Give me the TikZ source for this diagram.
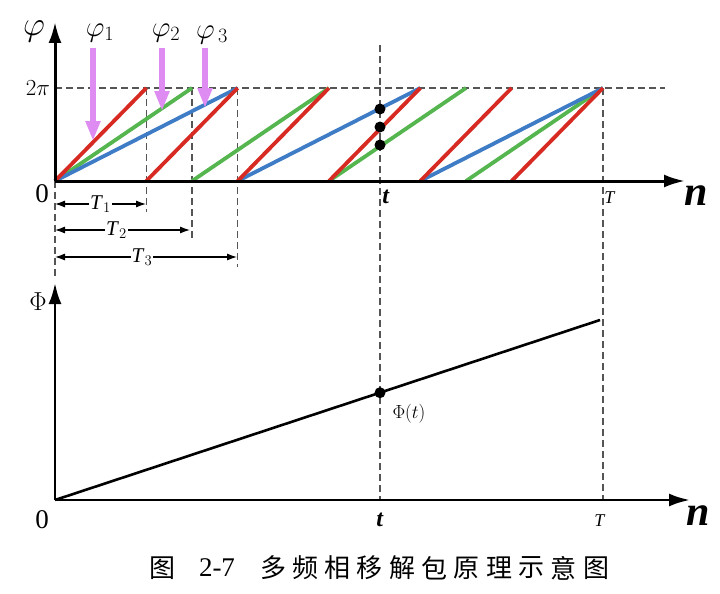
\RequirePackage{fix-cm}
\documentclass[tikz,border=0pt]{standalone}
\usepackage{fontspec}
\setmainfont{Liberation Serif}
\newfontfamily\cjk{Noto Sans CJK SC}
\usetikzlibrary{arrows.meta}
\definecolor{WrapRed}{HTML}{D62A22}
\definecolor{WrapGreen}{HTML}{55B54E}
\definecolor{WrapBlue}{HTML}{3F7CC6}
\definecolor{Probe}{HTML}{DE8CF2}
\definecolor{GuideGray}{HTML}{555555}
\newcommand{\fs}[1]{\fontsize{#1}{#1}\selectfont}

\begin{document}
\begin{tikzpicture}[x=1pt,y=-1pt,>={Latex[length=10pt,width=7pt]},
    axis/.style={line width=3pt,-{Latex[length=21pt,width=13pt]}},
    guide/.style={draw=GuideGray,line width=1.1pt,dash pattern=on 7pt off 4pt},
    ramp/.style={line width=3.8pt},
    probe/.style={draw=Probe,line width=6pt,-{Triangle[length=20pt,width=14pt]}},
    span/.style={line width=1.1pt,<->},
    dot/.style={circle,fill=black,inner sep=0pt,minimum size=11pt},
    lab/.style={inner sep=1pt}]
  \useasboundingbox (0,0) rectangle (720,594);

  % upper plot: wrapped phases
  \coordinate (O) at (55,181);
  \draw[guide] (55,88) -- (665,88);
  \draw[guide] (55,181) -- (55,278);
  \draw[guide] (146.3,88) -- (146.3,212);
  \draw[guide] (192,88) -- (192,238);
  \draw[guide] (237.7,88) -- (237.7,267);
  \draw[guide] (380,45) -- (380,500);
  \draw[guide] (603,88) -- (603,500);

  \foreach \k in {0,...,3}
    \draw[ramp,WrapGreen] ({55+\k*137},181) -- ({55+(\k+1)*137},88);
  \foreach \k in {0,...,2}
    \draw[ramp,WrapBlue] ({55+\k*182.67},181) -- ({55+(\k+1)*182.67},88);
  \foreach \k in {0,...,5}
    \draw[ramp,WrapRed] ({55+\k*91.33},181) -- ({55+(\k+1)*91.33},88);

  \draw[axis] (O) -- (55,22);
  \draw[axis] (O) -- (685,181);

  \node[dot] (d1) at (380,109) {};
  \node[dot] (d2) at (380,127) {};
  \node[dot] (d3) at (380,145) {};

  \draw[probe] (93,48) -- (93,141);
  \draw[probe] (162,48) -- (162,111);
  \draw[probe] (205,48) -- (205,108);

  \node[lab,font=\fs{34}] at (34,31) {$\varphi$};
  \node[lab,font=\fs{29}] at (100,33) {$\varphi_1$};
  \node[lab,font=\fs{29}] at (166,33) {$\varphi_2$};
  \node[lab,font=\fs{29}] at (212,35) {$\varphi_{\,3}$};
  \node[lab,font=\fs{23}] at (38,88) {$2\pi$};
  \node[lab,font=\fs{27}] at (42,194) {0};
  \node[lab,font=\fs{24}] at (386,197) {\textbf{\textit{t}}};
  \node[lab,font=\fs{18}] at (610,198) {\textit{T}};
  \node[lab,font=\fs{42}] at (696,196) {\textbf{\textit{n}}};

  \draw[span] (55,204) -- node[lab,fill=white,font=\fs{21}] {\textit{T}$_1$} (146,204);
  \draw[span] (55,230) -- node[lab,fill=white,font=\fs{21},xshift=-6pt] {\textit{T}$_2$} (190,230);
  \draw[span] (55,257) -- node[lab,fill=white,font=\fs{21},xshift=-4pt] {\textit{T}$_3$} (237,257);

  % lower plot: unwrapped phase
  \coordinate (P) at (55,500);
  \coordinate (E) at (600,320);
  \draw[line width=2.6pt] (P) -- (E);
  \draw[axis,line width=2.8pt] (P) -- (55,283);
  \draw[axis,line width=2.8pt] (P) -- (690,500);
  \node[dot] (dt) at (380,392.7) {};

  \node[lab,font=\fs{26}] at (38,302) {$\Phi$};
  \node[lab,font=\fs{19}] at (409,414) {$\Phi(t)$};
  \node[lab,font=\fs{27}] at (42,520) {0};
  \node[lab,font=\fs{24}] at (380,520) {\textbf{\textit{t}}};
  \node[lab,font=\fs{18}] at (600,521) {\textit{T}};
  \node[lab,font=\fs{42}] at (698,516) {\textbf{\textit{n}}};

  % caption
  \node[lab,font=\cjk\fs{26}] at (162,568) {图};
  \node[lab,font=\fs{27}] at (217,568) {2-7};
  \foreach \c [count=\i] in {多,频,相,移,解,包,原,理,示,意,图}
    \node[lab,font=\cjk\fs{26}] at ({273+(\i-1)*32.3},568) {\c};
\end{tikzpicture}
\end{document}
